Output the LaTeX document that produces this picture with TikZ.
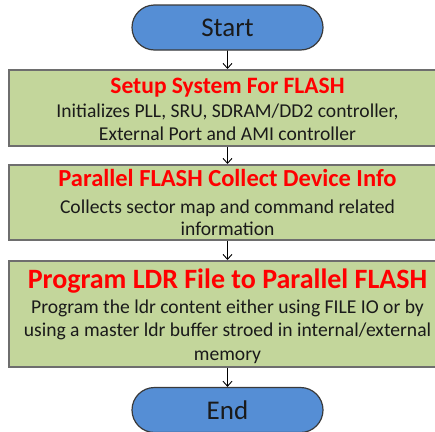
\documentclass[tikz,border=0pt]{standalone}
\usepackage{fontspec}
\setmainfont{Carlito}
\usetikzlibrary{shapes.misc,arrows.meta}
\definecolor{termblue}{HTML}{558ED5}
\definecolor{termedge}{HTML}{3A3A3A}
\definecolor{stepgreen}{HTML}{C3D69B}
\definecolor{stepedge}{HTML}{6E6E6E}
\definecolor{titlered}{HTML}{FF0000}
\definecolor{bodytext}{HTML}{1A1A1A}
\begin{document}
\begin{tikzpicture}[x=1pt,y=-1pt,
  terminal/.style={rounded rectangle, draw=termedge, line width=1.2pt,
    fill=termblue, minimum width=191pt, minimum height=45pt, inner sep=0pt,
    text=bodytext, font=\fontsize{27}{30}\selectfont},
  stepbox/.style={rectangle, draw=stepedge, line width=2pt, fill=stepgreen,
    minimum width=437pt, inner sep=0pt},
  steptitle/.style={anchor=base, inner sep=0pt, text=titlered,
    font=\fontsize{#1}{#1}\selectfont\bfseries},
  steptext/.style={anchor=base, inner sep=0pt, text=bodytext,
    font=\fontsize{19.6}{22}\selectfont},
  flow/.style={draw=black, line width=0.9pt,
    -{Straight Barb[length=5pt,width=9pt,line width=0.9pt]}}]
  \clip (0,0) rectangle (435,431);
  \fill[white] (0,0) rectangle (435,431);

  % terminals and process boxes
  \node[terminal] (start) at (227.5,27.5) {Start};
  \node[stepbox, minimum height=76pt] (b1) at (227.5,108) {};
  \node[stepbox, minimum height=75pt] (b2) at (227.5,202.5) {};
  \node[stepbox, minimum height=106pt] (b3) at (227.5,314) {};
  \node[terminal] (end) at (227.5,410) {End};

  % box texts
  \node[steptitle=23.5] (b1t) at (227.5,93) {Setup System For FLASH};
  \node[steptext] (b1a) at (227.5,117) {Initializes PLL, SRU, SDRAM/DD2 controller,};
  \node[steptext] (b1b) at (227.5,140) {External Port and AMI controller};

  \node[steptitle=24.5] (b2t) at (227.5,186) {Parallel FLASH Collect Device Info};
  \node[steptext] (b2a) at (227.5,213) {Collects sector map and command related};
  \node[steptext] (b2b) at (227.5,235) {information};

  \node[steptitle=28] (b3t) at (227.5,288) {Program LDR File to Parallel FLASH};
  \node[steptext] (b3a) at (227.5,313.5) {Program the ldr content either using FILE IO or by};
  \node[steptext] (b3b) at (227.5,336.5) {using a master ldr buffer stroed in internal/external};
  \node[steptext] (b3c) at (227.5,360) {memory};

  % connectors
  \draw[flow] (start) -- (b1);
  \draw[flow] (b1) -- (b2);
  \draw[flow] (b2) -- (b3);
  \draw[flow] (b3) -- (end);
\end{tikzpicture}
\end{document}
